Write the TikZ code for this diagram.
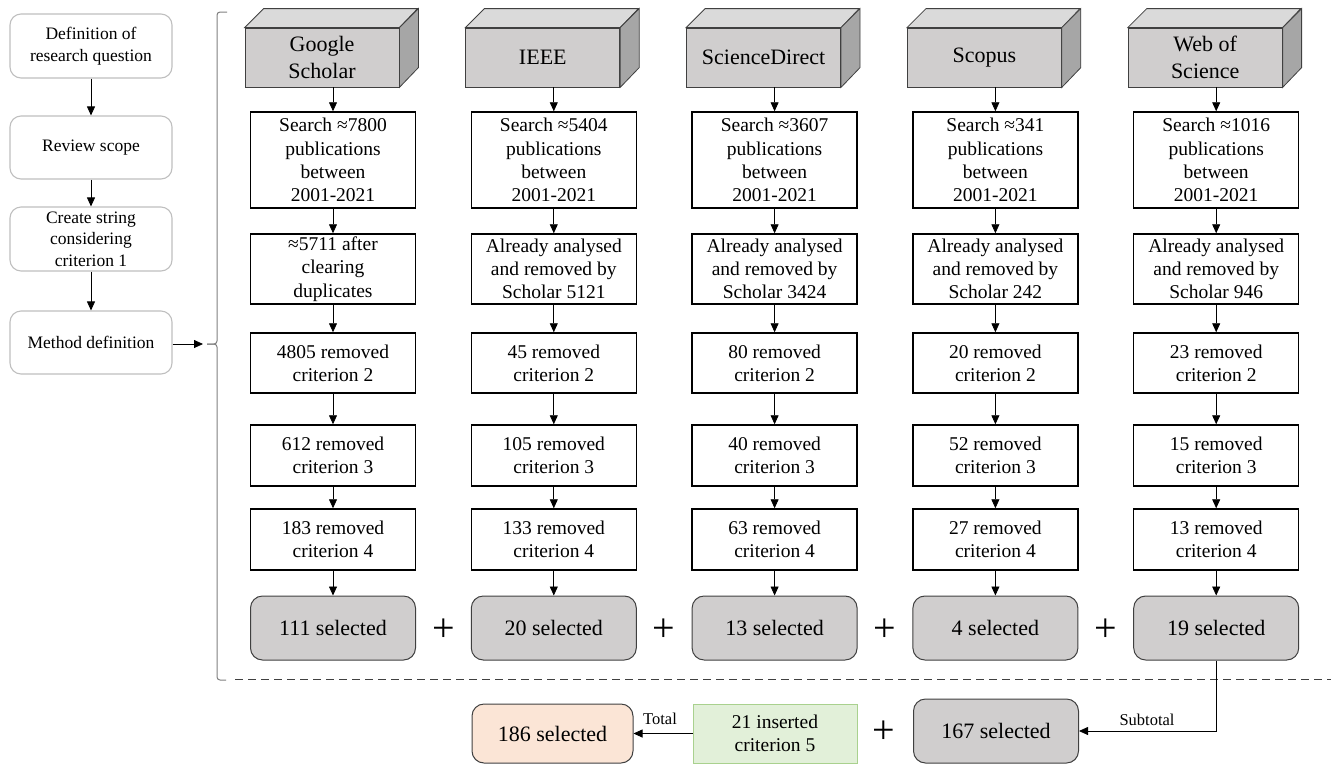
\documentclass[tikz,border=0pt]{standalone}
\usepackage{fontspec}
\setmainfont{Liberation Serif}
\usetikzlibrary{arrows.meta}
\definecolor{boxgray}{HTML}{D0CECE}
\definecolor{sidegray}{HTML}{A6A6A6}
\definecolor{topgray}{HTML}{DADADA}
\definecolor{edgegray}{HTML}{404040}
\definecolor{leftedge}{HTML}{BFBFBF}
\definecolor{peach}{HTML}{FBE5D6}
\definecolor{lgreen}{HTML}{E2F0D9}
\definecolor{greenedge}{HTML}{A9D18E}
\definecolor{brack}{HTML}{7F7F7F}
\tikzset{
  txt/.style={font=\rmfamily\fontsize{19.5}{23.3}\selectfont},
  ltxt/.style={font=\rmfamily\fontsize{17.5}{21.7}\selectfont},
  big/.style={font=\rmfamily\fontsize{22}{26.4}\selectfont},
  lefbox/.style={draw=leftedge, line width=1.1pt, rounded corners=11pt, minimum width=162pt, inner sep=0pt, align=center, ltxt},
  whitebox/.style={draw=black, line width=1.5pt, fill=white, minimum width=165pt, inner sep=0pt, align=center, txt},
  selbox/.style={draw=edgegray, line width=1pt, fill=boxgray, rounded corners=12pt, minimum width=165pt, minimum height=64pt, inner sep=0pt, big},
  dbface/.style={draw=edgegray, line width=0.8pt, fill=boxgray, minimum width=154pt, minimum height=59pt, inner sep=0pt, align=center, big},
  arr/.style={draw=black, line width=0.8pt, -{Triangle[length=9pt,width=8pt]}},
  plus/.style={font=\rmfamily\fontsize{40}{40}\selectfont, inner sep=0pt},
  smalllab/.style={font=\rmfamily\fontsize{16.5}{19}\selectfont}
}
\begin{document}
\begin{tikzpicture}[x=1pt,y=-1pt]
\useasboundingbox (0,0) rectangle (1331,764);

% left column
\node[lefbox, minimum height=64pt] (l1) at (91,46) {Definition of\\research question};
\node[lefbox, minimum height=63pt] (l2) at (91,147.5) {Review scope};
\node[lefbox, minimum height=64pt] (l3) at (91,239) {Create string\\considering\\criterion 1};
\node[lefbox, minimum height=63pt] (l4) at (91,342.5) {Method definition};
\draw[arr] (l1) -- (l2);
\draw[arr] (l2) -- (l3);
\draw[arr] (l3) -- (l4);
\coordinate (mtip) at (203,344);
\draw[arr] (l4.east |- mtip) -- (mtip);

% bracket
\coordinate (bt) at (227,12);
\coordinate (bm) at (207,344);
\coordinate (bb) at (226,680);
\draw[brack, line width=1pt, rounded corners=3pt] (bt) -- (217,12) -- (217,344) -- (bm);
\draw[brack, line width=1pt, rounded corners=3pt] (bm) -- (217,344) -- (217,680) -- (bb);

% columns
\foreach \i/\db/\ra/\rb/\rc/\rd/\re/\sel in {
 0/{Google\\Scholar}/{Search ≈7800\\publications\\between\\2001-2021}/{≈5711 after\\clearing\\duplicates}/{4805 removed\\criterion 2}/{612 removed\\criterion 3}/{183 removed\\criterion 4}/{111 selected},
 1/{IEEE}/{Search ≈5404\\publications\\between\\2001-2021}/{Already analysed\\and removed by\\Scholar 5121}/{45 removed\\criterion 2}/{105 removed\\criterion 3}/{133 removed\\criterion 4}/{20 selected},
 2/{ScienceDirect}/{Search ≈3607\\publications\\between\\2001-2021}/{Already analysed\\and removed by\\Scholar 3424}/{80 removed\\criterion 2}/{40 removed\\criterion 3}/{63 removed\\criterion 4}/{13 selected},
 3/{Scopus}/{Search ≈341\\publications\\between\\2001-2021}/{Already analysed\\and removed by\\Scholar 242}/{20 removed\\criterion 2}/{52 removed\\criterion 3}/{27 removed\\criterion 4}/{4 selected},
 4/{Web of\\Science}/{Search ≈1016\\publications\\between\\2001-2021}/{Already analysed\\and removed by\\Scholar 946}/{23 removed\\criterion 2}/{15 removed\\criterion 3}/{13 removed\\criterion 4}/{19 selected}}
{
  \pgfmathsetmacro\cx{333+220.8*\i}
  \node[dbface] (db\i) at (\cx-11,57.5) {\db};
  \draw[edgegray, line width=0.8pt, fill=topgray] (db\i.north west) -- ++(19,-19) -- ++(154,0) -- (db\i.north east) -- cycle;
  \draw[edgegray, line width=0.8pt, fill=sidegray] (db\i.north east) -- ++(19,-19) -- ++(0,59) -- (db\i.south east) -- cycle;
  \node[whitebox, minimum height=96pt] (a\i) at (\cx,160) {\ra};
  \node[whitebox, minimum height=70pt] (b\i) at (\cx,269) {\rb};
  \node[whitebox, minimum height=60pt] (c\i) at (\cx,363) {\rc};
  \node[whitebox, minimum height=61pt] (d\i) at (\cx,455.5) {\rd};
  \node[whitebox, minimum height=61pt] (e\i) at (\cx,539.5) {\re};
  \node[selbox] (s\i) at (\cx,628) {\sel};
  \draw[arr] (db\i.south -| a\i.north) -- (a\i.north);
  \draw[arr] (a\i) -- (b\i);
  \draw[arr] (b\i) -- (c\i);
  \draw[arr] (c\i) -- (d\i);
  \draw[arr] (d\i) -- (e\i);
  \draw[arr] (e\i) -- (s\i);
}
\foreach \i in {0,1,2,3}{
  \pgfmathsetmacro\px{333+220.8*\i+110.4}
  \node[plus] (p\i) at (\px,630) {+};
}

% dashed separator
\coordinate (dl) at (235,679);
\coordinate (dr) at (1331,679);
\draw[edgegray, line width=0.8pt, dash pattern=on 8pt off 5pt] (dl) -- (dr);

% bottom row
\node[draw=edgegray, line width=1pt, fill=peach, rounded corners=12pt, minimum width=161pt, minimum height=59pt, inner sep=0pt, big] (tot) at (552.5,733.5) {186 selected};
\node[draw=greenedge, line width=1pt, fill=lgreen, minimum width=164pt, minimum height=59pt, inner sep=0pt, align=center, txt] (ins) at (775,733.5) {21 inserted\\criterion 5};
\node[selbox] (sub) at (996,731) {167 selected};
\node[plus] (pb) at (884,732) {+};
\draw[arr] (ins) -- (tot);
\node[smalllab] (tlab) at (660,719) {Total};
\draw[arr] (s4.south) |- (sub.east);
\node[smalllab] (slab) at (1147,720) {Subtotal};
\end{tikzpicture}
\end{document}
